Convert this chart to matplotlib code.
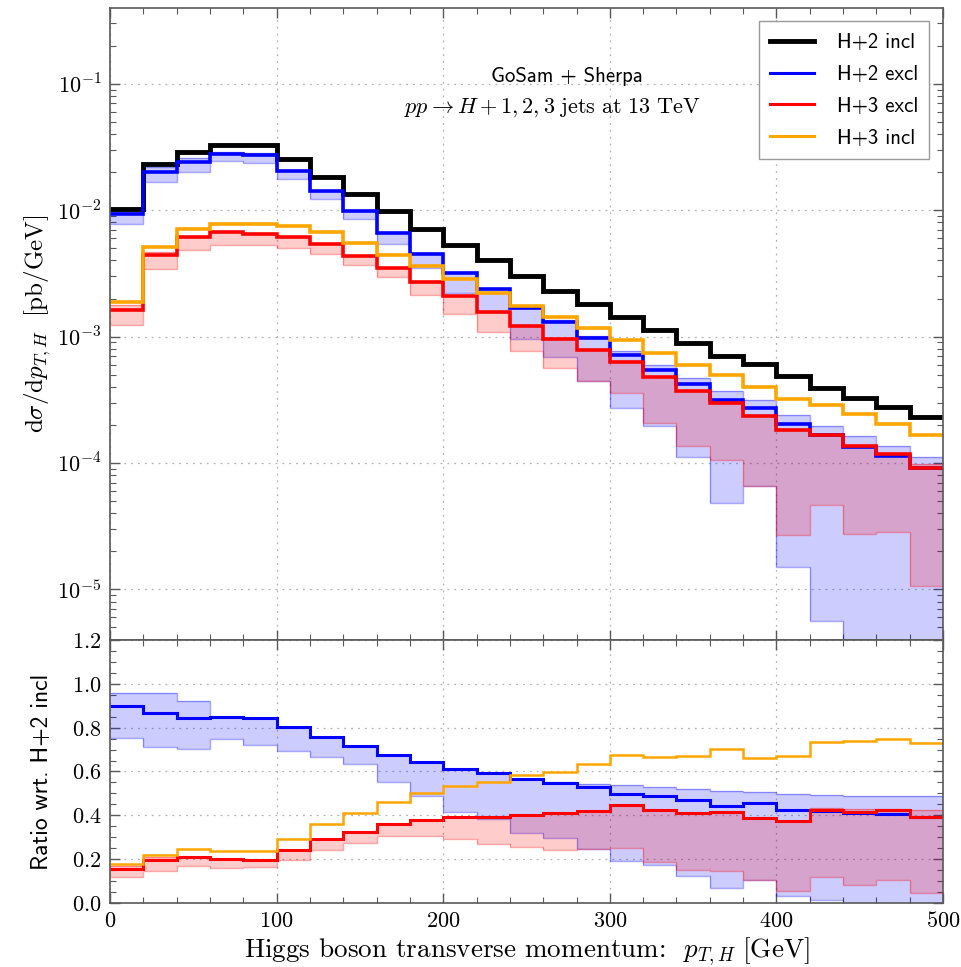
import numpy as np
import matplotlib
matplotlib.use('Agg')
import matplotlib.pyplot as plt
from matplotlib.ticker import FuncFormatter, MultipleLocator, LogLocator, NullFormatter

# Bins in p_T,H [GeV]
bin_edges = [0, 20, 40, 60, 80, 100, 120, 140, 160, 180, 200, 220, 240, 260, 280,
             300, 320, 340, 360, 380, 400, 420, 440, 460, 480, 500]

# Upper panel: dsigma/dpT [pb/GeV]
h2_incl = [0.0102, 0.0232, 0.0286, 0.0330, 0.0325, 0.0254, 0.0183, 0.0135, 0.0099, 0.0071,
           0.00527, 0.00401, 0.00303, 0.00231, 0.00182, 0.00142, 0.00112, 0.00089, 0.000708,
           0.000608, 0.000485, 0.000393, 0.000327, 0.000276, 0.00023]
h2_excl = [0.00938, 0.0200, 0.0239, 0.0278, 0.0273, 0.0203, 0.0141, 0.0099, 0.0066, 0.00453,
           0.00319, 0.00238, 0.00169, 0.0013, 0.00097, 0.00071, 0.000545, 0.000418, 0.000314,
           0.000273, 0.000204, 0.000166, 0.000133, 0.000113, 0.0000905]
h2_excl_hi = [0.0097, 0.0218, 0.0261, 0.0286, 0.0283, 0.0205, 0.0143, 0.0100, 0.0067, 0.00458,
              0.00323, 0.00240, 0.00171, 0.00136, 0.00101, 0.000766, 0.000601, 0.000472, 0.00037,
              0.000314, 0.000241, 0.000195, 0.000163, 0.000136, 0.000112]
h2_excl_lo = [0.0078, 0.0167, 0.0200, 0.0246, 0.0236, 0.0177, 0.0123, 0.0085, 0.0054, 0.0035,
              0.0022, 0.00156, 0.00096, 0.00069, 0.000448, 0.000272, 0.000195, 0.000111, 0.000048,
              0.000066, 0.0000150, 0.0000056, 1e-7, 1e-7, 1e-7]
h3_excl = [0.00163, 0.0044, 0.0061, 0.00668, 0.00652, 0.00614, 0.00543, 0.00437, 0.00351, 0.00268,
           0.00208, 0.00157, 0.00121, 0.00096, 0.00078, 0.000634, 0.000477, 0.00037, 0.0003,
           0.000237, 0.000182, 0.000168, 0.000136, 0.000117, 0.0000916]
h3_excl_hi = [0.00179, 0.0047, 0.0061, 0.00668, 0.00652, 0.00614, 0.00543, 0.00437, 0.00351, 0.00268,
              0.00208, 0.00157, 0.00121, 0.00096, 0.00078, 0.000634, 0.000477, 0.00037, 0.0003,
              0.000237, 0.000182, 0.00017, 0.00014, 0.00012, 0.0000975]
h3_excl_lo = [0.00124, 0.00345, 0.00481, 0.00527, 0.00527, 0.00506, 0.00453, 0.00367, 0.00298, 0.00215,
              0.00152, 0.00109, 0.000766, 0.000560, 0.000449, 0.000356, 0.000208, 0.000136, 0.000105,
              0.000066, 0.0000270, 0.0000465, 0.0000275, 0.0000286, 0.0000106]
h3_incl = [0.00187, 0.00512, 0.0071, 0.00782, 0.00773, 0.00745, 0.00673, 0.0055, 0.00445, 0.0036,
           0.00286, 0.00221, 0.00176, 0.00142, 0.00116, 0.000946, 0.000743, 0.000597, 0.000495,
           0.0004, 0.000323, 0.00029, 0.000242, 0.000205, 0.000168]

# Lower panel: ratio wrt. H+2 incl
r_h2_excl = [0.898, 0.868, 0.845, 0.85, 0.842, 0.801, 0.756, 0.715, 0.677, 0.642, 0.612, 0.593,
             0.566, 0.549, 0.527, 0.499, 0.488, 0.47, 0.444, 0.457, 0.424, 0.42, 0.409, 0.405, 0.394]
r_h2_excl_hi = [0.959, 0.959, 0.92, 0.85, 0.842, 0.801, 0.756, 0.715, 0.677, 0.642, 0.612, 0.593,
                0.566, 0.553, 0.545, 0.538, 0.53, 0.52, 0.512, 0.508, 0.497, 0.492, 0.489, 0.488, 0.488]
r_h2_excl_lo = [0.753, 0.712, 0.701, 0.747, 0.723, 0.694, 0.667, 0.633, 0.553, 0.487, 0.416, 0.381,
                0.321, 0.295, 0.245, 0.191, 0.172, 0.124, 0.068, 0.106, 0.03, 0.015, -0.05, -0.05, -0.05]
r_h3_excl = [0.156, 0.197, 0.212, 0.201, 0.197, 0.242, 0.292, 0.326, 0.359, 0.379, 0.391, 0.394,
             0.402, 0.409, 0.421, 0.448, 0.422, 0.409, 0.415, 0.386, 0.374, 0.424, 0.415, 0.424, 0.394]
r_h3_excl_hi = [0.17, 0.212, 0.212, 0.201, 0.197, 0.242, 0.292, 0.326, 0.359, 0.379, 0.391, 0.394,
                0.402, 0.409, 0.421, 0.448, 0.422, 0.409, 0.415, 0.386, 0.374, 0.433, 0.427, 0.43, 0.424]
r_h3_excl_lo = [0.118, 0.147, 0.167, 0.159, 0.162, 0.197, 0.242, 0.273, 0.306, 0.306, 0.291, 0.271,
                0.255, 0.24, 0.246, 0.25, 0.187, 0.151, 0.148, 0.106, 0.056, 0.117, 0.083, 0.103, 0.045]
r_h3_incl = [0.179, 0.217, 0.247, 0.238, 0.239, 0.291, 0.359, 0.409, 0.459, 0.503, 0.535, 0.553,
             0.583, 0.598, 0.632, 0.677, 0.667, 0.67, 0.701, 0.663, 0.67, 0.735, 0.738, 0.747, 0.73]

plt.rcParams['mathtext.fontset'] = 'cm'
spine_col = '0.35'

fig = plt.figure(figsize=(9.61, 9.67), dpi=100)
ax1 = fig.add_axes([0.1145, 0.3382, 0.8668, 0.6536])
ax2 = fig.add_axes([0.1145, 0.0662, 0.8668, 0.272], sharex=ax1)


def band(ax, hi, lo, color, lw_edge=1.0):
    ax.stairs(hi, bin_edges, baseline=lo, fill=True, color=color, alpha=0.2, lw=0)
    ax.stairs(hi, bin_edges, baseline=None, color=color, alpha=0.35, lw=lw_edge)
    ax.stairs(lo, bin_edges, baseline=None, color=color, alpha=0.35, lw=lw_edge)


# upper panel
band(ax1, h2_excl_hi, h2_excl_lo, 'blue')
band(ax1, h3_excl_hi, h3_excl_lo, 'red')
ax1.stairs(h2_incl, bin_edges, baseline=None, color='black', lw=3.5, label='H+2 incl')
ax1.stairs(h2_excl, bin_edges, baseline=None, color='blue', lw=2.6, label='H+2 excl')
ax1.stairs(h3_excl, bin_edges, baseline=None, color='red', lw=2.6, label='H+3 excl')
ax1.stairs(h3_incl, bin_edges, baseline=None, color='orange', lw=2.6, label='H+3 incl')

ax1.set_yscale('log')
ax1.set_xlim(0, 500)
ax1.set_ylim(10 ** -5.4, 10 ** -0.4)
ax1.yaxis.set_major_locator(LogLocator(base=10, numticks=12))
ax1.yaxis.set_minor_locator(LogLocator(base=10, subs=np.arange(2, 10), numticks=30))
ax1.yaxis.set_major_formatter(FuncFormatter(lambda v, p: r'$10^{%d}$' % int(round(np.log10(v)))))
ax1.yaxis.set_minor_formatter(NullFormatter())
ax1.set_ylabel(r'$\mathrm{d}\sigma/\mathrm{d}p_{T,H}\ \ [\mathrm{pb/GeV}]$', fontsize=18)
ax1.yaxis.set_label_coords(-0.068, 0.5)

leg = ax1.legend(loc='upper right', prop={'family': 'cmss10', 'size': 15}, fancybox=False,
                 edgecolor='0.6', framealpha=1, handlelength=2.1, labelspacing=0.62,
                 borderaxespad=0.65, handletextpad=1.1, borderpad=0.55)
leg.get_frame().set_linewidth(1.0)
for line in leg.get_lines()[1:]:
    line.set_linewidth(2.2)

ax1.text(0.549, 0.891, 'GoSam + Sherpa', transform=ax1.transAxes, ha='center', va='center',
         fontfamily='cmss10', fontsize=15)
ax1.text(0.531, 0.842, r'$pp \rightarrow H + 1,2,3\ \mathrm{jets\ at\ 13\ TeV}$',
         transform=ax1.transAxes, ha='center', va='center', fontsize=16)

# lower panel
band(ax2, r_h2_excl_hi, r_h2_excl_lo, 'blue')
band(ax2, r_h3_excl_hi, r_h3_excl_lo, 'red')
ax2.stairs(r_h2_excl, bin_edges, baseline=None, color='blue', lw=2.2)
ax2.stairs(r_h3_excl, bin_edges, baseline=None, color='red', lw=2.2)
ax2.stairs(r_h3_incl, bin_edges, baseline=None, color='orange', lw=1.8)

ax2.set_ylim(0, 1.2)
ax2.yaxis.set_major_locator(MultipleLocator(0.2))
ax2.yaxis.set_minor_locator(MultipleLocator(0.05))
ax2.yaxis.set_major_formatter(FuncFormatter(lambda v, p: r'$%.1f$' % v))
ax2.xaxis.set_major_locator(MultipleLocator(100))
ax2.xaxis.set_minor_locator(MultipleLocator(20))
ax2.xaxis.set_major_formatter(FuncFormatter(lambda v, p: r'$%d$' % v))
ax2.set_ylabel('Ratio wrt. H+2 incl', fontfamily='cmss10', fontsize=17)
ax2.yaxis.set_label_coords(-0.068, 0.5)
ax2.set_xlabel(r'Higgs boson transverse momentum:  $p_{T,H}\ [\mathrm{GeV}]$',
               fontfamily='cmr10', fontsize=19.5, labelpad=3)

for ax in (ax1, ax2):
    ax.grid(True, which='major', linestyle=(0, (1.5, 4)), color='0.7', lw=0.9)
    ax.set_axisbelow(True)
    ax.tick_params(which='both', direction='in', top=True, right=True, color=spine_col,
                   labelsize=16, pad=6)
    ax.tick_params(which='major', length=7, width=1)
    ax.tick_params(which='minor', length=4, width=0.8)
    for s in ax.spines.values():
        s.set_color(spine_col)
        s.set_linewidth(1.2)
ax1.tick_params(labelbottom=False)

fig.savefig('out.png', dpi=100)
